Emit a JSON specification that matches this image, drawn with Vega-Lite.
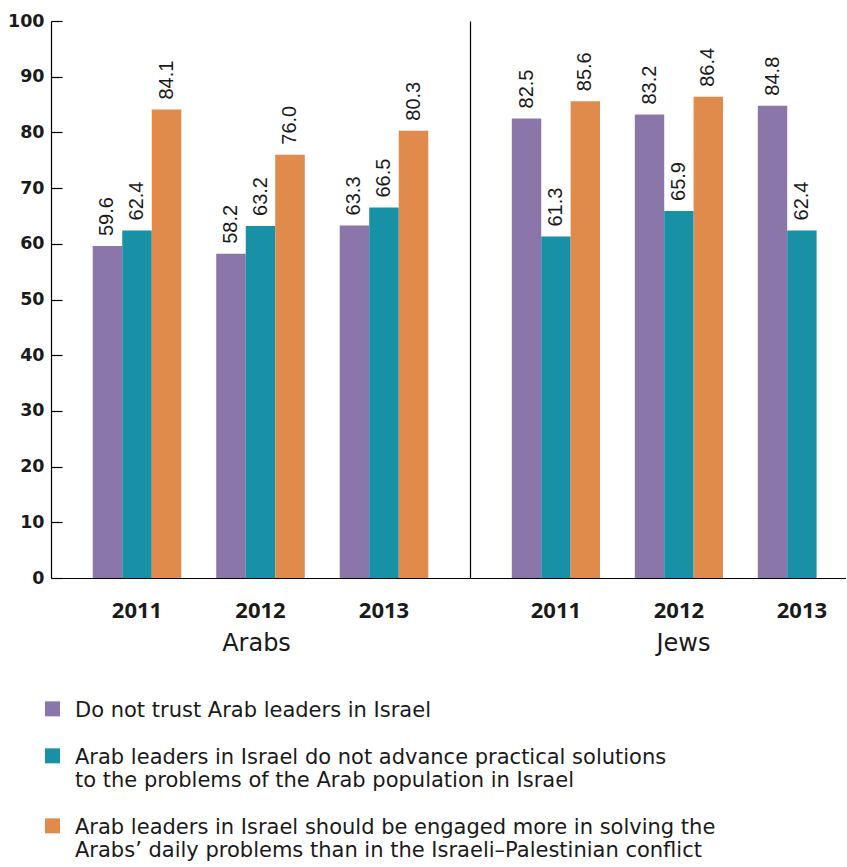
{
  "$schema": "https://vega.github.io/schema/vega-lite/v6.json",
  "padding": {"left": 7, "top": 12, "right": 0, "bottom": 0},
  "spacing": 0,
  "config": {
    "view": {"stroke": null},
    "font": "DejaVu Sans"
  },
  "datasets": {
    "survey": [
      {"group": "Arabs", "year": "2011", "series": "Do not trust Arab leaders in Israel", "value": 59.6},
      {"group": "Arabs", "year": "2011", "series": "Arab leaders in Israel do not advance practical solutions to the problems of the Arab population in Israel", "value": 62.4},
      {"group": "Arabs", "year": "2011", "series": "Arab leaders in Israel should be engaged more in solving the Arabs’ daily problems than in the Israeli–Palestinian conflict", "value": 84.1},
      {"group": "Arabs", "year": "2012", "series": "Do not trust Arab leaders in Israel", "value": 58.2},
      {"group": "Arabs", "year": "2012", "series": "Arab leaders in Israel do not advance practical solutions to the problems of the Arab population in Israel", "value": 63.2},
      {"group": "Arabs", "year": "2012", "series": "Arab leaders in Israel should be engaged more in solving the Arabs’ daily problems than in the Israeli–Palestinian conflict", "value": 76.0},
      {"group": "Arabs", "year": "2013", "series": "Do not trust Arab leaders in Israel", "value": 63.3},
      {"group": "Arabs", "year": "2013", "series": "Arab leaders in Israel do not advance practical solutions to the problems of the Arab population in Israel", "value": 66.5},
      {"group": "Arabs", "year": "2013", "series": "Arab leaders in Israel should be engaged more in solving the Arabs’ daily problems than in the Israeli–Palestinian conflict", "value": 80.3},
      {"group": "Jews", "year": "2011", "series": "Do not trust Arab leaders in Israel", "value": 82.5},
      {"group": "Jews", "year": "2011", "series": "Arab leaders in Israel do not advance practical solutions to the problems of the Arab population in Israel", "value": 61.3},
      {"group": "Jews", "year": "2011", "series": "Arab leaders in Israel should be engaged more in solving the Arabs’ daily problems than in the Israeli–Palestinian conflict", "value": 85.6},
      {"group": "Jews", "year": "2012", "series": "Do not trust Arab leaders in Israel", "value": 83.2},
      {"group": "Jews", "year": "2012", "series": "Arab leaders in Israel do not advance practical solutions to the problems of the Arab population in Israel", "value": 65.9},
      {"group": "Jews", "year": "2012", "series": "Arab leaders in Israel should be engaged more in solving the Arabs’ daily problems than in the Israeli–Palestinian conflict", "value": 86.4},
      {"group": "Jews", "year": "2013", "series": "Do not trust Arab leaders in Israel", "value": 84.8},
      {"group": "Jews", "year": "2013", "series": "Arab leaders in Israel do not advance practical solutions to the problems of the Arab population in Israel", "value": 62.4}
    ]
  },
  "data": {"name": "survey"},
  "resolve": {"scale": {"x": "independent", "y": "independent", "xOffset": "independent", "color": "shared"}},
  "hconcat": [
    {
      "width": 419,
      "height": 557,
      "transform": [{"filter": "datum.group == 'Arabs'"}],
      "encoding": {
        "x": {
          "field": "year", "type": "nominal",
          "scale": {"paddingInner": 0.283, "paddingOuter": 0.338},
          "axis": {
            "title": "Arabs", "titleFont": "DejaVu Sans", "titleFontSize": 24, "titleFontWeight": "normal", "titleColor": "#1a1a1a", "titlePadding": 10, "titleX": 205,
            "labelAngle": 0, "labelFont": "Open Sans", "labelFontSize": 22, "labelFontWeight": "bold", "labelColor": "#1a1a1a", "labelPadding": 22,
            "ticks": false, "domainColor": "#000000", "domainWidth": 1.2
          }
        },
        "xOffset": {
          "field": "series", "type": "nominal",
          "sort": ["Do not trust Arab leaders in Israel", "Arab leaders in Israel do not advance practical solutions to the problems of the Arab population in Israel", "Arab leaders in Israel should be engaged more in solving the Arabs’ daily problems than in the Israeli–Palestinian conflict"],
          "scale": {"paddingInner": 0, "paddingOuter": 0}
        },
        "y": {
          "field": "value", "type": "quantitative",
          "scale": {"domain": [0, 100], "nice": false},
          "axis": {
            "title": null, "values": [0, 10, 20, 30, 40, 50, 60, 70, 80, 90, 100], "grid": false,
            "labelFont": "DejaVu Sans", "labelFontSize": 17.5, "labelFontWeight": "bold", "labelColor": "#1a1a1a",
            "tickSize": -11, "tickColor": "#000000", "tickWidth": 1.2, "labelPadding": 18, "domainColor": "#000000", "domainWidth": 1.2
          }
        }
      },
      "layer": [
        {
          "mark": {"type": "bar"},
          "encoding": {
            "color": {
              "field": "series", "type": "nominal",
              "scale": {
                "domain": ["Do not trust Arab leaders in Israel", "Arab leaders in Israel do not advance practical solutions to the problems of the Arab population in Israel", "Arab leaders in Israel should be engaged more in solving the Arabs’ daily problems than in the Israeli–Palestinian conflict"],
                "range": ["#8a76a8", "#1890a6", "#e08a4b"]
              },
              "legend": {
                "title": null, "orient": "none", "legendX": -9, "legendY": 685, "direction": "vertical",
                "symbolType": "M-1,-2.02H1V-0.02H-1Z", "symbolSize": 225, "symbolStrokeWidth": 0,
                "labelFont": "DejaVu Sans", "labelFontSize": 21, "labelColor": "#1a1a1a", "labelLimit": 0, "labelLineHeight": 25.5,
                "labelBaseline": "alphabetic", "labelOffset": 12, "rowPadding": 25,
                "labelExpr": "indexof(datum.label, 'advance') >= 0 ? ['Arab leaders in Israel do not advance practical solutions', 'to the problems of the Arab population in Israel'] : indexof(datum.label, 'engaged') >= 0 ? ['Arab leaders in Israel should be engaged more in solving the', 'Arabs’ daily problems than in the Israeli–Palestinian conflict'] : datum.label"
              }
            }
          }
        },
        {
          "mark": {"type": "text", "angle": -90, "align": "left", "baseline": "middle", "dx": 10, "font": "Liberation Sans", "fontSize": 20, "color": "#1a1a1a"},
          "encoding": {
            "text": {"field": "value", "type": "quantitative", "format": ".1f"}
          }
        }
      ]
    },
    {
      "width": 376,
      "height": 557,
      "transform": [{"filter": "datum.group == 'Jews'"}],
      "encoding": {
        "x": {
          "field": "year", "type": "nominal",
          "scale": {"paddingInner": 0.283, "paddingOuter": 0.17, "align": 1},
          "axis": {
            "title": "Jews", "titleFont": "DejaVu Sans", "titleFontSize": 24, "titleFontWeight": "normal", "titleColor": "#1a1a1a", "titlePadding": 10, "titleX": 213,
            "labelAngle": 0, "labelFont": "Open Sans", "labelFontSize": 22, "labelFontWeight": "bold", "labelColor": "#1a1a1a", "labelPadding": 22,
            "ticks": false, "domainColor": "#000000", "domainWidth": 1.2
          }
        },
        "xOffset": {
          "field": "series", "type": "nominal",
          "sort": ["Do not trust Arab leaders in Israel", "Arab leaders in Israel do not advance practical solutions to the problems of the Arab population in Israel", "Arab leaders in Israel should be engaged more in solving the Arabs’ daily problems than in the Israeli–Palestinian conflict"],
          "scale": {"paddingInner": 0, "paddingOuter": 0}
        },
        "y": {
          "field": "value", "type": "quantitative",
          "scale": {"domain": [0, 100], "nice": false},
          "axis": {
            "title": null, "grid": false, "labels": false, "ticks": false,
            "domainColor": "#000000", "domainWidth": 1.2
          }
        }
      },
      "layer": [
        {
          "mark": {"type": "bar"},
          "encoding": {
            "color": {"field": "series", "type": "nominal"}
          }
        },
        {
          "mark": {"type": "text", "angle": -90, "align": "left", "baseline": "middle", "dx": 10, "font": "Liberation Sans", "fontSize": 20, "color": "#1a1a1a"},
          "encoding": {
            "text": {"field": "value", "type": "quantitative", "format": ".1f"}
          }
        }
      ]
    }
  ]
}
